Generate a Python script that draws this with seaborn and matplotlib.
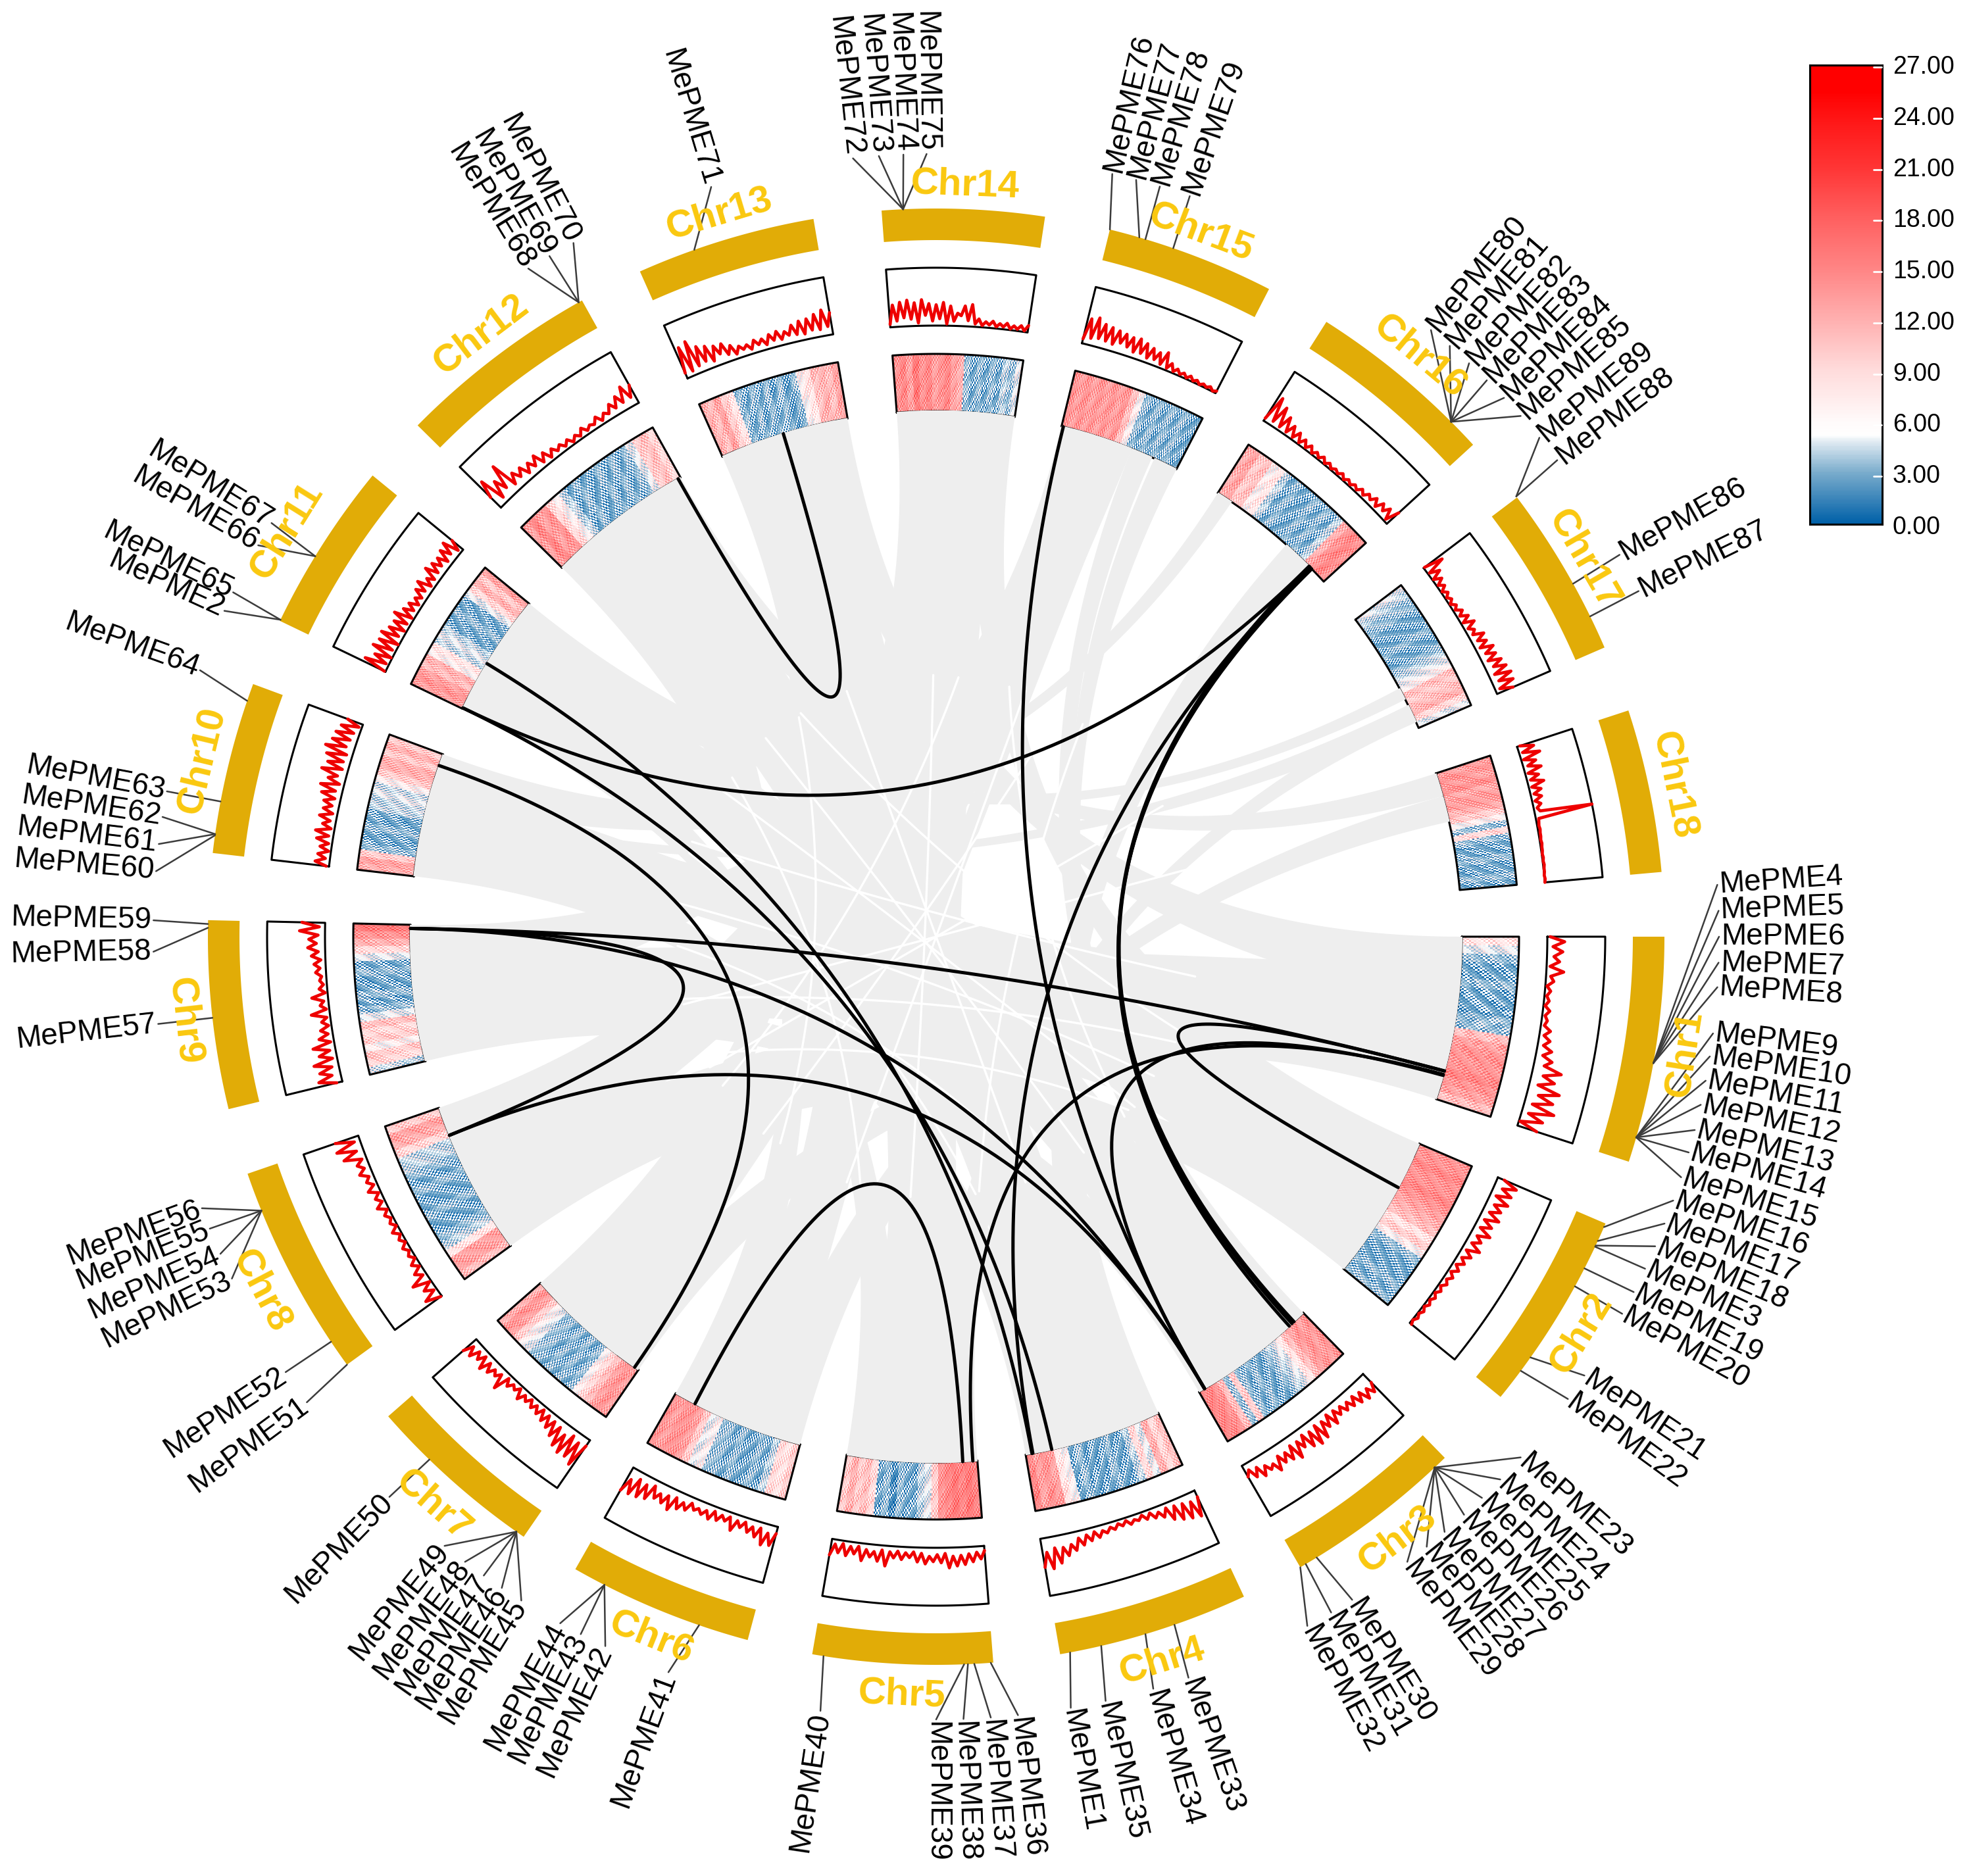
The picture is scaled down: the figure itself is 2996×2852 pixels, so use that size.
import numpy as np
import seaborn as sns
import matplotlib.pyplot as plt
from matplotlib.colors import LinearSegmentedColormap

chr_names = ["Chr%d" % i for i in range(1, 19)]
chr_start = [0, 23.2, 45.7, 65, 85.5, 105, 124.5, 144, 166.3, 186.6, 205.7, 224.6, 246, 265.7, 283.8, 302.4, 322.9, 341.9]
chr_end = [18, 39.2, 60, 80.2, 99.8, 119.7, 138.8, 161, 181.3, 200.3, 219.3, 240.9, 260.3, 278.6, 297.2, 317.5, 336.6, 354.9]
chr_label_angle = [8.9, 31.6, 52.6, 72.7, 92.6, 112.1, 131.5, 152.3, 173.6, 193.5, 212, 232.9, 253.3, 272.2, 290.6, 309.8, 329.8, 348.4]
chr_label_r = [1151, 1151, 1154, 1154, 1154, 1150, 1154, 1158, 1150, 1148, 1165, 1147, 1147, 1143, 1143, 1148, 1139, 1145]

gene_ids = [4, 5, 6, 7, 8, 9, 10, 11, 12, 13, 14, 15, 16, 17, 18, 3, 19, 20, 21, 22,
            23, 24, 25, 26, 27, 28, 29, 30, 31, 32, 33, 34, 35, 1, 36, 37, 38, 39, 40,
            41, 42, 43, 44, 45, 46, 47, 48, 49, 50, 51, 52, 53, 54, 55, 56, 57, 58, 59,
            60, 61, 62, 63, 64, 2, 65, 66, 67, 68, 69, 70, 71, 72, 73, 74, 75,
            76, 77, 78, 79, 80, 81, 82, 83, 84, 85, 89, 88, 86, 87]
gene_band_angle = [10, 10, 10, 10, 10, 16, 16, 16, 16, 16, 16, 16, 23.5, 24.7, 25.1, 25.2, 27.1, 28.7, 35.3, 36.6,
                   46.8, 46.8, 46.8, 46.8, 46.8, 46.8, 46.8, 58.5, 59.5, 60, 70.9, 73.3, 76.9, 79.4, 85.7, 87, 87.5, 87.8, 98.9,
                   109, 117.1, 117.1, 117.1, 125.2, 125.2, 125.2, 125.2, 125.2, 134.1, 144, 146.2, 157.9, 157.9, 157.9, 157.9, 173.6, 180.7, 181,
                   188, 188.1, 188.1, 190.7, 198.9, 205.8, 205.8, 211.5, 211.5, 240.6, 240.6, 240.6, 250.6, 267.4, 267.4, 267.4, 267.4,
                   283.8, 286.2, 286.7, 289, 315, 315, 315, 315, 315, 315, 322.8, 322.8, 331, 333.9]
gene_label_angle = [356.2, 358.1, 0, 1.9, 3.7, 7.1, 8.8, 10.6, 12.4, 14.3, 16, 17.9, 19.7, 21.5, 23.3, 25.1, 27, 28.8, 34.1, 36.2,
                    41.7, 43.9, 45.8, 47.6, 49.5, 51.2, 53, 57.9, 59.7, 61.7, 71.2, 73.9, 77.5, 80.1, 84, 86, 88, 90, 98.5,
                    110, 115, 117, 118.7, 122, 123.7, 125.3, 127, 128.9, 134.3, 143.5, 146.2, 154.1, 156.1, 158.1, 159.7, 173.6, 178.9, 181.2,
                    184.8, 186.8, 188.8, 190.7, 199.9, 204.6, 206.1, 210, 211.9, 238.6, 240.4, 242.4, 253.3, 263.9, 265.8, 267.6, 269.3,
                    283, 284.8, 286.6, 288.9, 309.2, 311, 312.9, 314.7, 316.5, 318.3, 320.4, 322.5, 330.8, 333.8]

# density track, percent of the box depth measured from the inner edge
density_1 = [5,30,10,27,12,22,6,30,8,14,3,10,4,9,3,12,5,10,6,18,8,20,10,26,12,30,18,50,20,42,15,55,20,48,14,55,12,40,2,35]
density_2 = [12,38,15,35,10,36,14,30,12,34,10,28,10,33,12,24,10,30,8,22,8,18,6,16,5,14,6,12,4,10,3,9,3,8,2,7,2,6,1,4]
density_3 = [20,36,22,38,18,34,15,30,16,28,14,26,12,34,10,30,14,42,12,45,15,40,12,32,16,44,15,38,20,35,18,42,25,32,20,36,15,30,12,22]
density_4 = [12,45,15,42,12,38,10,32,8,22,10,18,6,15,5,12,8,14,5,12,6,14,8,16,10,20,8,22,10,26,12,32,20,38,22,48,20,55,25,50]
density_5 = [8,22,10,26,12,30,14,32,15,35,10,26,12,24,15,28,10,25,8,18,10,22,8,20,10,35,8,28,12,22,10,30,6,20,8,25,5,22,8,28]
density_6 = [12,35,15,38,10,28,12,24,8,20,10,30,8,18,10,22,8,25,12,22,14,20,10,26,15,30,12,38,15,32,18,30,10,38,15,42,12,44,20,45]
density_7 = [12,55,15,48,10,50,18,45,12,35,10,28,8,24,6,20,8,18,6,16,8,22,5,14,8,18,6,35,10,20,12,25,10,30,8,22,10,28,12,30]
density_8 = [2,28,5,20,3,32,6,18,3,14,2,10,4,12,2,10,3,14,2,10,4,12,3,18,5,14,4,20,6,16,8,22,10,20,8,38,12,45,10,42]
density_9 = [10,40,15,35,12,42,8,30,10,38,6,25,8,20,5,16,6,32,5,15,8,28,4,14,6,12,8,18,10,20,8,24,12,30,15,28,12,44,10,40]
density_10 = [5,25,8,22,4,20,6,28,8,32,6,22,10,30,8,26,12,28,10,35,12,40,8,30,15,45,10,38,12,44,10,50,15,42,12,40,10,35,5,28]
density_11 = [2,42,5,30,2,40,6,35,2,38,8,30,4,28,6,35,4,25,8,22,6,18,8,25,10,30,6,20,8,32,10,28,12,26,8,30,12,34,6,25]
density_12 = [25,55,10,40,18,60,12,30,15,28,10,25,12,28,8,22,6,18,8,15,6,14,4,12,5,16,6,12,8,18,6,16,10,24,12,30,14,40,15,35]
density_13 = [10,55,8,60,12,45,15,40,10,35,18,34,12,26,8,20,12,18,8,22,12,20,8,24,12,26,10,22,14,30,12,34,10,35,14,40,12,45,15,38]
density_14 = [5,38,10,42,15,45,12,40,5,45,18,38,8,36,12,40,3,34,8,22,18,35,10,38,5,14,3,10,5,12,3,9,4,11,2,8,3,10,2,12]
density_15 = [8,45,12,50,15,42,14,40,12,38,18,36,15,34,10,36,12,32,8,28,10,25,6,30,4,15,3,10,3,8,2,8,2,6,1,5,2,6,1,4]
density_16 = [5,50,8,40,6,30,5,22,4,18,3,14,3,12,2,9,3,10,2,8,2,7,3,9,2,8,3,9,4,12,5,14,8,18,6,20,10,22,4,28]
density_17 = [2,35,3,20,2,15,3,12,2,10,3,9,2,10,4,14,5,18,4,22,6,15,8,26,10,24,8,30,12,28,10,32,14,35,10,38,12,36,8,30]
density_18 = [5,28,6,35,4,24,8,30,5,22,6,28,5,20,6,18,5,14,6,10,100,5,4,3,4,3,3,2,3,2,2,1,2,1,2,1,1,0,1,0]
density = [density_1, density_2, density_3, density_4, density_5, density_6, density_7, density_8, density_9,
           density_10, density_11, density_12, density_13, density_14, density_15, density_16, density_17, density_18]

# expression level along each chromosome, same scale as the colour bar
heat_1 = [7,5,3,2,2,3,2,2,2,3,3,10,12,13,13,13,14,13,12,10]
heat_2 = [13,13,14,13,13,14,13,12,11,10,7,9,6,3,2,2,2,3,2,3]
heat_3 = [13,12,13,12,10,7,5,4,3,2,2,3,2,3,9,3,10,13,14,14]
heat_4 = [10,8,11,5,8,4,2,2,3,2,2,2,3,2,6,7,12,13,12,14]
heat_5 = [14,15,14,15,14,13,9,5,4,2,2,3,1,3,2,8,10,9,11,9]
heat_6 = [9,7,8,4,2,3,2,2,3,2,3,3,6,5,9,12,13,13,12,13]
heat_7 = [12,13,12,10,8,6,3,2,3,2,3,2,3,3,5,6,9,12,13,11]
heat_8 = [10,12,12,7,4,3,2,2,3,2,2,3,2,3,4,4,8,11,12,9]
heat_9 = [4,8,9,6,9,8,10,5,3,2,3,2,2,3,2,5,8,11,13,15]
heat_10 = [11,12,9,3,2,2,3,2,2,4,4,5,4,6,9,11,11,9,11,9]
heat_11 = [12,13,12,10,11,6,7,4,5,4,2,2,3,2,2,5,8,11,9,12]
heat_12 = [12,14,12,13,8,6,4,2,3,2,2,3,2,3,2,3,5,9,10,8]
heat_13 = [11,10,12,9,7,3,2,3,2,3,2,3,2,3,6,7,10,11,10,12]
heat_14 = [13,14,12,15,13,14,12,13,14,12,11,3,2,3,2,3,2,4,3,5]
heat_15 = [13,12,13,12,13,12,13,12,13,10,6,3,2,3,2,3,2,3,2,2]
heat_16 = [11,12,9,10,6,7,4,2,3,2,2,3,2,3,2,4,11,13,14,13]
heat_17 = [5,4,3,3,2,2,2,3,2,2,3,4,5,6,10,9,10,11,8,5]
heat_18 = [12,13,12,13,11,12,12,11,9,6,3,8,3,2,2,3,2,2,3,2]
heat = [heat_1, heat_2, heat_3, heat_4, heat_5, heat_6, heat_7, heat_8, heat_9,
        heat_10, heat_11, heat_12, heat_13, heat_14, heat_15, heat_16, heat_17, heat_18]
sample_shift = [-1, 3, 0, 4, -1.5, 1, 0, 3.5, -1, 1.5]

# grey collinear blocks: chr A, from, to, chr B, from, to (fractions of the chromosome)
grey_links = [
    # chromosome ends to starts further round the circle
    (1, .65, 1, 7, 0, .4), (2, .65, 1, 8, 0, .4), (3, .65, 1, 9, 0, .4), (4, .65, 1, 10, 0, .4),
    (5, .65, 1, 11, 0, .4), (6, .65, 1, 12, 0, .4), (7, .65, 1, 13, 0, .4), (8, .65, 1, 14, 0, .4),
    (9, .65, 1, 15, 0, .28), (10, .65, 1, 16, 0, .12), (11, .65, 1, 17, .65, .75), (12, .65, 1, 18, 0, .2),
    (1, 0, .4, 13, .65, 1), (2, 0, .4, 14, .65, 1), (3, 0, .4, 15, .6, .78), (4, 0, .4, 16, .62, .88),
    (5, 0, .4, 17, .8, .95), (5, 0, .4, 12, .65, 1), (6, 0, .4, 18, .2, .42),
    # middle parts across the centre
    (1, .4, .65, 10, .4, .65), (2, .4, .65, 11, .4, .65), (3, .4, .65, 12, .4, .65), (4, .4, .65, 13, .4, .65),
    (5, .4, .65, 14, .4, .65), (6, .4, .65, 15, .3, .58), (7, .4, .65, 12, .3, .6), (8, .4, .65, 13, .3, .6),
    (9, .4, .65, 14, .3, .6), (3, .1, .2, 15, .8, 1), (10, .5, .6, 17, .8, .95),
    # whole chromosome blocks that keep the middle of the circle closed
    (1, .2, .8, 9, .2, .8), (2, .2, .8, 10, .2, .8), (3, .2, .8, 11, .2, .8), (4, .2, .8, 12, .2, .8),
    (5, .2, .8, 13, .2, .8), (6, .2, .8, 14, .2, .8), (7, .2, .8, 15, .2, .6),
    (1, .4, .9, 8, .1, .6), (2, .1, .6, 9, .1, .6), (6, .2, .7, 13, .2, .7), (7, .2, .7, 14, .2, .7),
    (8, .3, .8, 15, .1, .6), (3, .1, .9, 12, .1, .9), (2, .1, .9, 11, .1, .9), (4, .1, .9, 13, .1, .9),
    (5, .1, .9, 14, .1, .9),
]

# gaps between the grey blocks close to the centre, both ends as angles on the inner circle
white_strands = [(20, 170), (30, 190), (40, 215), (55, 230), (70, 250), (95, 270), (110, 290), (130, 300),
                 (150, 330), (165, 345), (10, 200), (35, 160), (75, 205), (120, 245), (85, 300), (50, 280),
                 (140, 280), (25, 235), (60, 185), (100, 225)]

# black duplicated pairs, both ends as angles on the inner circle
black_links = [(240.6, 253.1), (284, 59.3), (315.2, 205.8), (315.2, 47.4), (315.6, 47.8), (315.4, 47.1),
               (315.3, 79.4), (211.3, 79.5), (205.8, 77.3), (199, 125), (14.8, 180.9), (180.9, 157.8),
               (180.9, 59.3), (157.8, 59.3), (15.3, 59.3), (14.8, 28.5), (15.2, 86), (87.1, 117.3)]

bar_values = [27, 24, 21, 18, 15, 12, 9, 6, 3, 0]
bar_stops = [0, 3, 4.8, 5.2, 6, 9, 12, 15, 18, 21, 24, 25.5, 27]
bar_colors = ["#0060a8", "#7aaccc", "#dfeaf2", "#ffffff", "#fffafa", "#ffdcdc", "#ffb0b0",
              "#ff8585", "#ff6060", "#ff3535", "#ff1414", "#ff0000", "#ff0000"]

cx, cy = 1423, 1424
band_in, band_out = 1059, 1107
dens_in, dens_out = 929, 1017
heat_in, heat_out = 799, 886
label_r = 1190
web_r = 400

BAND = "#e1ac07"
CHR_TEXT = "#fac80f"
GREY = "#eeeeee"


def pol(theta, r):
    t = np.radians(theta)
    return cx + r * np.cos(t), cy + r * np.sin(t)


def sector(start, end, r0, r1):
    th = np.linspace(start, end, 60)
    x0, y0 = pol(th, r0)
    x1, y1 = pol(th[::-1], r1)
    return np.r_[x0, x1, x0[0]], np.r_[y0, y1, y0[0]]


def chord(a, b, r, n=80):
    # quadratic bezier with its control point in the circle centre
    t = np.linspace(0, 1, n)
    ax_, ay_ = pol(a, r)
    bx_, by_ = pol(b, r)
    x = (1 - t) ** 2 * (ax_ - cx) + t ** 2 * (bx_ - cx) + cx
    y = (1 - t) ** 2 * (ay_ - cy) + t ** 2 * (by_ - cy) + cy
    return x, y


def tangent_rotation(theta):
    theta = theta % 360
    return 90 - theta if theta < 180 else 270 - theta


sns.set_theme(style="white")
plt.rcParams["font.family"] = ["Liberation Sans", "DejaVu Sans"]

fig = plt.figure(figsize=(29.96, 28.52), dpi=100)
ax = fig.add_axes([0, 0, 1, 1])
cmap = LinearSegmentedColormap.from_list("pme", [(v / 27, c) for v, c in zip(bar_stops, bar_colors)], N=512)

for i in range(18):
    s, e = chr_start[i], chr_end[i]
    # outer band
    x, y = sector(s, e, band_in, band_out)
    ax.fill(x, y, color=BAND, lw=0, zorder=2)

    # density box
    x, y = sector(s, e, dens_in, dens_out)
    ax.plot(x, y, color="black", lw=2.2, zorder=3)
    vals = np.array(density[i]) / 100
    th = np.linspace(s, e, len(vals))
    lx, ly = pol(th, dens_in + vals * (dens_out - dens_in))
    sns.lineplot(x=lx, y=ly, sort=False, estimator=None, color="#ee0000", lw=3.4, ax=ax, zorder=4)

    # heat track
    rows = np.repeat(heat[i], 5)
    n_col = 24
    mat = np.array([[rows[r] + sample_shift[(3 * c + 7 * r) % len(sample_shift)] for c in range(n_col)]
                    for r in range(len(rows))])
    th_e, r_e = np.meshgrid(np.linspace(s, e, len(rows) + 1), np.linspace(heat_in, heat_out, n_col + 1), indexing="ij")
    mx, my = pol(th_e, r_e)
    ax.pcolormesh(mx, my, mat, cmap=cmap, vmin=0, vmax=27, shading="flat", zorder=1)
    x, y = sector(s, e, heat_in, heat_out)
    ax.plot(x, y, color="black", lw=2.2, zorder=1.5)

    # chromosome name
    lab_x, lab_y = pol(chr_label_angle[i], chr_label_r[i])
    ax.text(lab_x, lab_y, chr_names[i], color=CHR_TEXT, fontsize=42, fontweight="bold", ha="center", va="center",
            rotation=tangent_rotation(chr_label_angle[i]), rotation_mode="anchor", zorder=6)

# grey blocks over the inner edge of the heat track
for ca, a0, a1, cb, b0, b1 in grey_links:
    sa, ea = chr_start[ca - 1], chr_end[ca - 1]
    sb, eb = chr_start[cb - 1], chr_end[cb - 1]
    aa, ab = sa + a0 * (ea - sa), sa + a1 * (ea - sa)
    ba, bb = sb + b0 * (eb - sb), sb + b1 * (eb - sb)
    r = heat_in + 1
    arc_a = pol(np.linspace(aa, ab, 20), r)
    arc_b = pol(np.linspace(ba, bb, 20), r)
    c1 = chord(ab, ba, r)
    c2 = chord(bb, aa, r)
    ax.fill(np.r_[arc_a[0], c1[0], arc_b[0], c2[0]], np.r_[arc_a[1], c1[1], arc_b[1], c2[1]],
            color=GREY, lw=0, zorder=1.8)

for a, b in white_strands:
    x, y = chord(a, b, heat_in, n=200)
    near = np.hypot(x - cx, y - cy) < web_r
    ax.plot(x[near], y[near], color="white", lw=2.4, zorder=1.9)

for a, b in black_links:
    x, y = chord(a, b, heat_in)
    sns.lineplot(x=x, y=y, sort=False, estimator=None, color="black", lw=3.6, ax=ax, zorder=2.5)

# gene labels with their leader lines
for gid, ba, la in zip(gene_ids, gene_band_angle, gene_label_angle):
    x0, y0 = pol(ba, band_out)
    x1, y1 = pol(la, label_r)
    ax.plot([x0, x1], [y0, y1], color="#3c3c3c", lw=1.8, zorder=5)
    tx, ty = pol(la, label_r + 3)
    right = np.cos(np.radians(la)) >= 0
    ax.text(tx, ty, "MePME%d" % gid, fontsize=33, color="black", va="center", ha="left" if right else "right",
            rotation=-la if right else 180 - la, rotation_mode="anchor", zorder=7)

ax.set_xlim(0, 2996)
ax.set_ylim(2852, 0)
ax.axis("off")

# colour bar
bar_left, bar_right, bar_top, bar_bottom = 2751, 2861, 99, 797
cax = fig.add_axes([bar_left / 2996, 1 - bar_bottom / 2852, (bar_right - bar_left) / 2996, (bar_bottom - bar_top) / 2852])
sns.heatmap(np.linspace(27, 0, 400).reshape(-1, 1), ax=cax, cmap=cmap, vmin=0, vmax=27, cbar=False,
            xticklabels=False, yticklabels=False)
for sp in cax.spines.values():
    sp.set_visible(True)
    sp.set_color("black")
    sp.set_linewidth(2.2)
for v in bar_values:
    ypos = 802 - v / 27 * (802 - 102)
    if 0 < v:
        ax.plot([2848, 2860], [ypos, ypos], color="white", lw=2, zorder=9, clip_on=False)
    ax.text(2877, ypos, "%.2f" % v, fontsize=27, color="black", ha="left", va="center", zorder=9)
cax.set_zorder(0)
ax.set_zorder(1)
ax.patch.set_alpha(0)

fig.savefig("out.png", dpi=100, facecolor="white")
